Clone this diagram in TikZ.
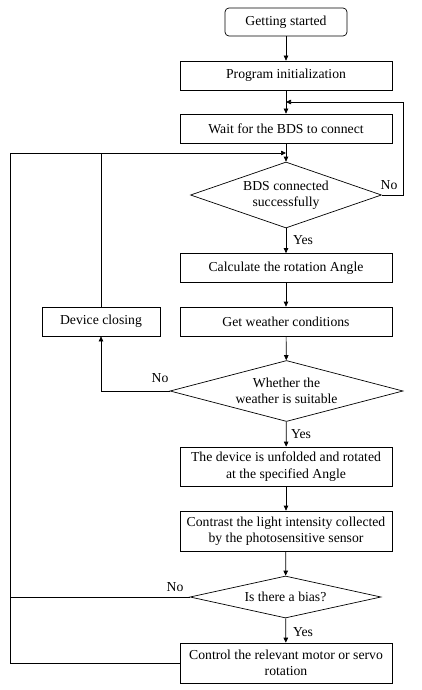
\documentclass[tikz,border=0pt]{standalone}
\usepackage{fontspec}
\setmainfont{Liberation Serif}
\usetikzlibrary{shapes.geometric,arrows.meta}
\begin{document}
\begin{tikzpicture}[x=1pt,y=-1pt,
  every node/.style={font=\fontsize{13.7}{16.5}\selectfont},
  procbox/.style={draw,line width=0.7pt,minimum width=212pt,minimum height=29pt,inner sep=1pt,align=center},
  decision/.style={draw,line width=0.7pt,shape=diamond,inner sep=0pt},
  dtext/.style={align=center,inner sep=0pt},
  lbl/.style={inner sep=0pt},
  conn/.style={line width=0.7pt,-{Triangle[length=5pt,width=4.5pt]}},
  plain/.style={line width=0.7pt}]
\useasboundingbox (0,0) rectangle (421,690);
\node[draw,line width=0.7pt,rounded corners=4pt,minimum width=122pt,minimum height=28pt] (start) at (286,22) {Getting started};
\node[procbox] (init) at (286,75.5) {Program initialization};
\node[procbox] (wait) at (286,128.5) {Wait for the BDS to connect};
\node[decision,minimum width=191pt,minimum height=66pt,label={[dtext]center:BDS connected\\successfully}] (d1) at (286,195) {};
\node[procbox] (calc) at (286,268) {Calculate the rotation Angle};
\node[procbox] (weather) at (286,321.5) {Get weather conditions};
\node[procbox,minimum width=118pt] (close) at (101,321.5) {Device closing};
\node[decision,minimum width=233pt,minimum height=61pt,label={[dtext]center:Whether the\\weather is suitable}] (d2) at (286.5,391) {};
\node[procbox,minimum height=39pt] (unfold) at (286,466.5) {The device is unfolded and rotated\\at the specified Angle};
\node[procbox,minimum height=40pt] (contrast) at (286,531) {Contrast the light intensity collected\\by the photosensitive sensor};
\node[decision,minimum width=191pt,minimum height=42pt,label={[dtext]center:Is there a bias?}] (d3) at (285.5,597) {};
\node[procbox,minimum height=40pt] (control) at (286,663) {Control the relevant motor or servo\\rotation};
\coordinate (r1) at (403,102);
\coordinate (m1) at (286,102);
\coordinate (lft) at (10,153);
\coordinate (jn) at (286,153);
\draw[conn] (start) -- (init);
\draw[conn] (init) -- (wait);
\draw[conn] (wait) -- (d1);
\draw[conn] (d1) -- (calc);
\draw[conn] (calc) -- (weather);
\draw[conn] (weather) -- (d2);
\draw[conn] (d2) -- (unfold);
\draw[conn] (unfold) -- (contrast);
\draw[conn] (contrast) -- (d3);
\draw[conn] (d3) -- (control);
\draw[conn] (d1.east) -| (r1) -- (m1);
\draw[conn] (d2.west) -| (close.south);
\draw[plain] (close.north) -- (close.north |- jn);
\draw[conn] (control.west) -| (lft) -- (jn);
\draw[plain] (d3.west) -- (d3.west -| lft);
\node[lbl] (no1) at (389,185) {No};
\node[lbl] (yes1) at (303,240) {Yes};
\node[lbl] (no2) at (160,378) {No};
\node[lbl] (yes2) at (301,434) {Yes};
\node[lbl] (no3) at (175,587) {No};
\node[lbl] (yes3) at (303,632) {Yes};
\end{tikzpicture}
\end{document}
